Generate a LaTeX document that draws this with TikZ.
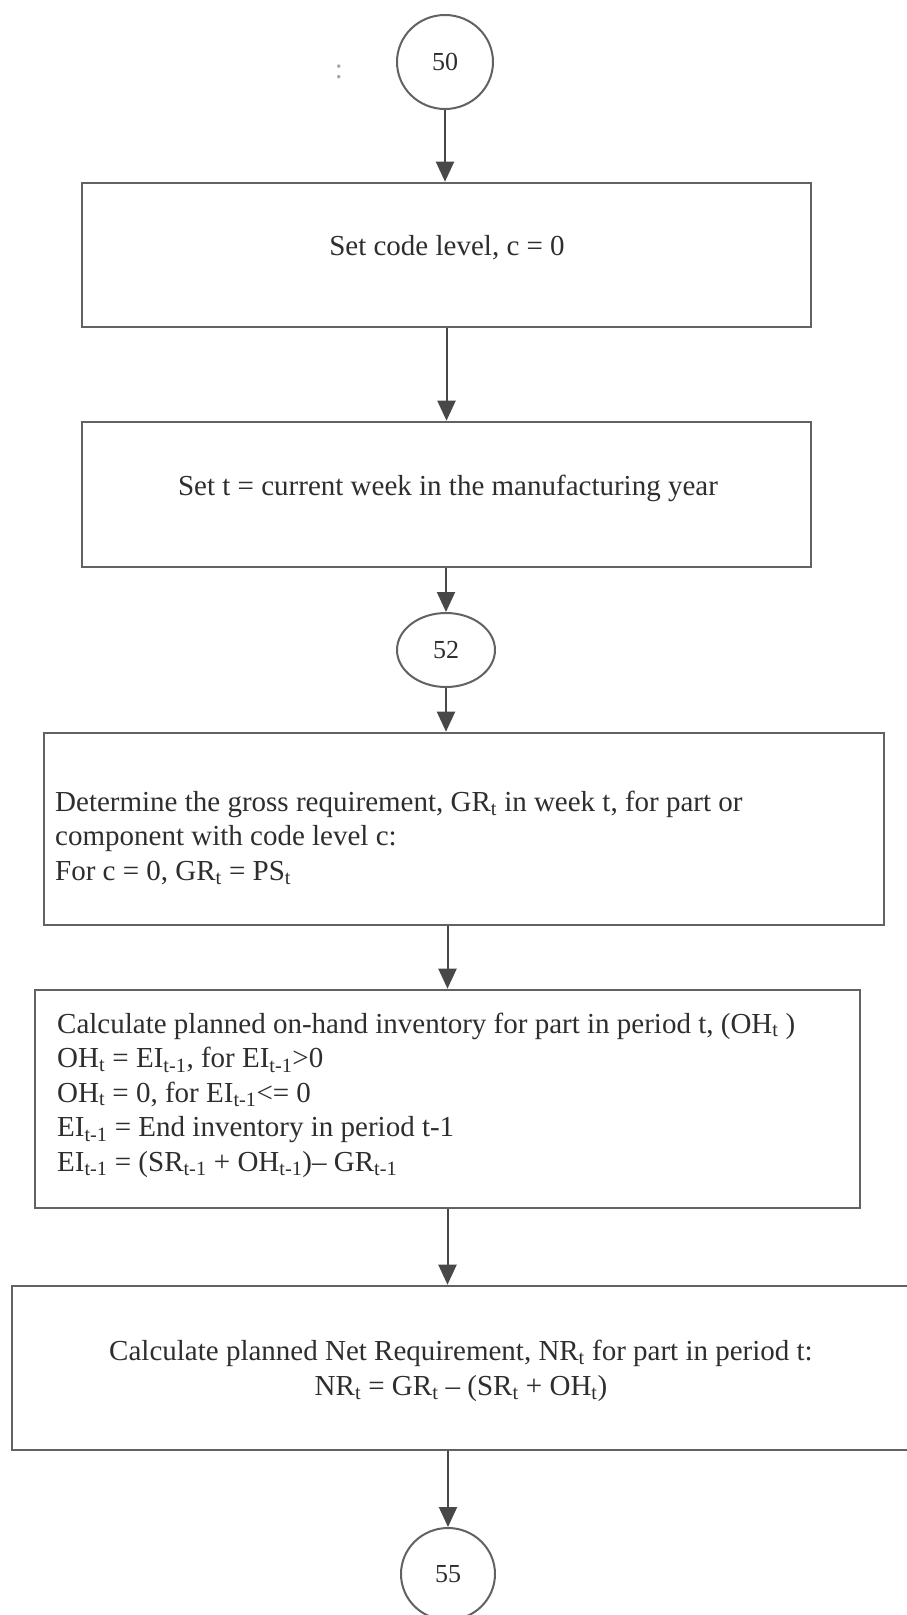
\documentclass[tikz,border=0pt]{standalone}
\usepackage{fontspec}
\setmainfont{Liberation Serif}
\usetikzlibrary{arrows.meta,shapes.geometric}
\definecolor{linegray}{HTML}{626262}
\definecolor{arrowgray}{HTML}{484848}
\definecolor{textgray}{HTML}{2E2E2E}
\begin{document}
\begin{tikzpicture}[x=1pt,y=-1pt,
  every node/.style={font=\fontsize{29}{34.5}\selectfont, text=textgray},
  box/.style={draw=linegray, line width=2.6pt, rectangle, inner sep=0pt},
  txt/.style={inner sep=0pt},
  conn/.style={draw=linegray, line width=2pt, ellipse, inner sep=0pt,
    font=\fontsize{26}{30}\selectfont},
  arr/.style={draw=arrowgray, line width=2pt,
    -{Triangle[length=20pt,width=18pt]}, arrowgray}
]
% canvas
\fill[white] (0,0) rectangle (907,1615);
\useasboundingbox (0,0) rectangle (907,1615);

% connectors (off-page references)
\node[conn, minimum width=96, minimum height=94] (c50) at (445,62) {50};
\node[conn, minimum width=98, minimum height=74] (c52) at (446,650) {52};
\node[conn, minimum width=94, minimum height=92] (c55) at (448,1574) {55};
\node[text=gray!70] (mark) at (339,72) {:};

% process boxes
\node[box, minimum width=729, minimum height=144] (b1) at (446.5,255) {};
\node[box, minimum width=729, minimum height=145] (b2) at (446.5,494.5) {};
\node[box, minimum width=840, minimum height=192] (b3) at (464,829) {};
\node[box, minimum width=825, minimum height=218] (b4) at (447.5,1099) {};
\node[box, minimum width=900, minimum height=164] (b5) at (462,1368) {};

% box texts
\node[txt] (t1) at (447,248) {Set code level, c = 0};
\node[txt] (t2) at (448,488) {Set t = current week in the manufacturing year};
\node[txt, anchor=west, align=left] (t3) at (55,838)
  {Determine the gross requirement, GR\textsubscript{t} in week t, for part or\\
   component with code level c:\\
   For c = 0, GR\textsubscript{t} = PS\textsubscript{t}};
\node[txt, anchor=west, align=left] (t4) at (57,1095)
  {Calculate planned on-hand inventory for part in period t, (OH\textsubscript{t} )\\
   OH\textsubscript{t} = EI\textsubscript{t-1}, for EI\textsubscript{t-1}>0\\
   OH\textsubscript{t} = 0, for EI\textsubscript{t-1}<= 0\\
   EI\textsubscript{t-1} = End inventory in period t-1\\
   EI\textsubscript{t-1} = (SR\textsubscript{t-1} + OH\textsubscript{t-1})-- GR\textsubscript{t-1}};
\node[txt, align=center] (t5) at (461,1371)
  {Calculate planned Net Requirement, NR\textsubscript{t} for part in period t:\\
   NR\textsubscript{t} = GR\textsubscript{t} -- (SR\textsubscript{t} + OH\textsubscript{t})};

% flow
\draw[arr] (c50) -- (c50 |- b1.north);
\draw[arr] (b1) -- (b2);
\draw[arr] (b2.south -| c52) -- (c52);
\draw[arr] (c52) -- (c52 |- b3.north);
\draw[arr] (b4 |- b3.south) -- (b4);
\draw[arr] (b4) -- (b4 |- b5.north);
\draw[arr] (c55 |- b5.south) -- (c55);
\end{tikzpicture}
\end{document}
